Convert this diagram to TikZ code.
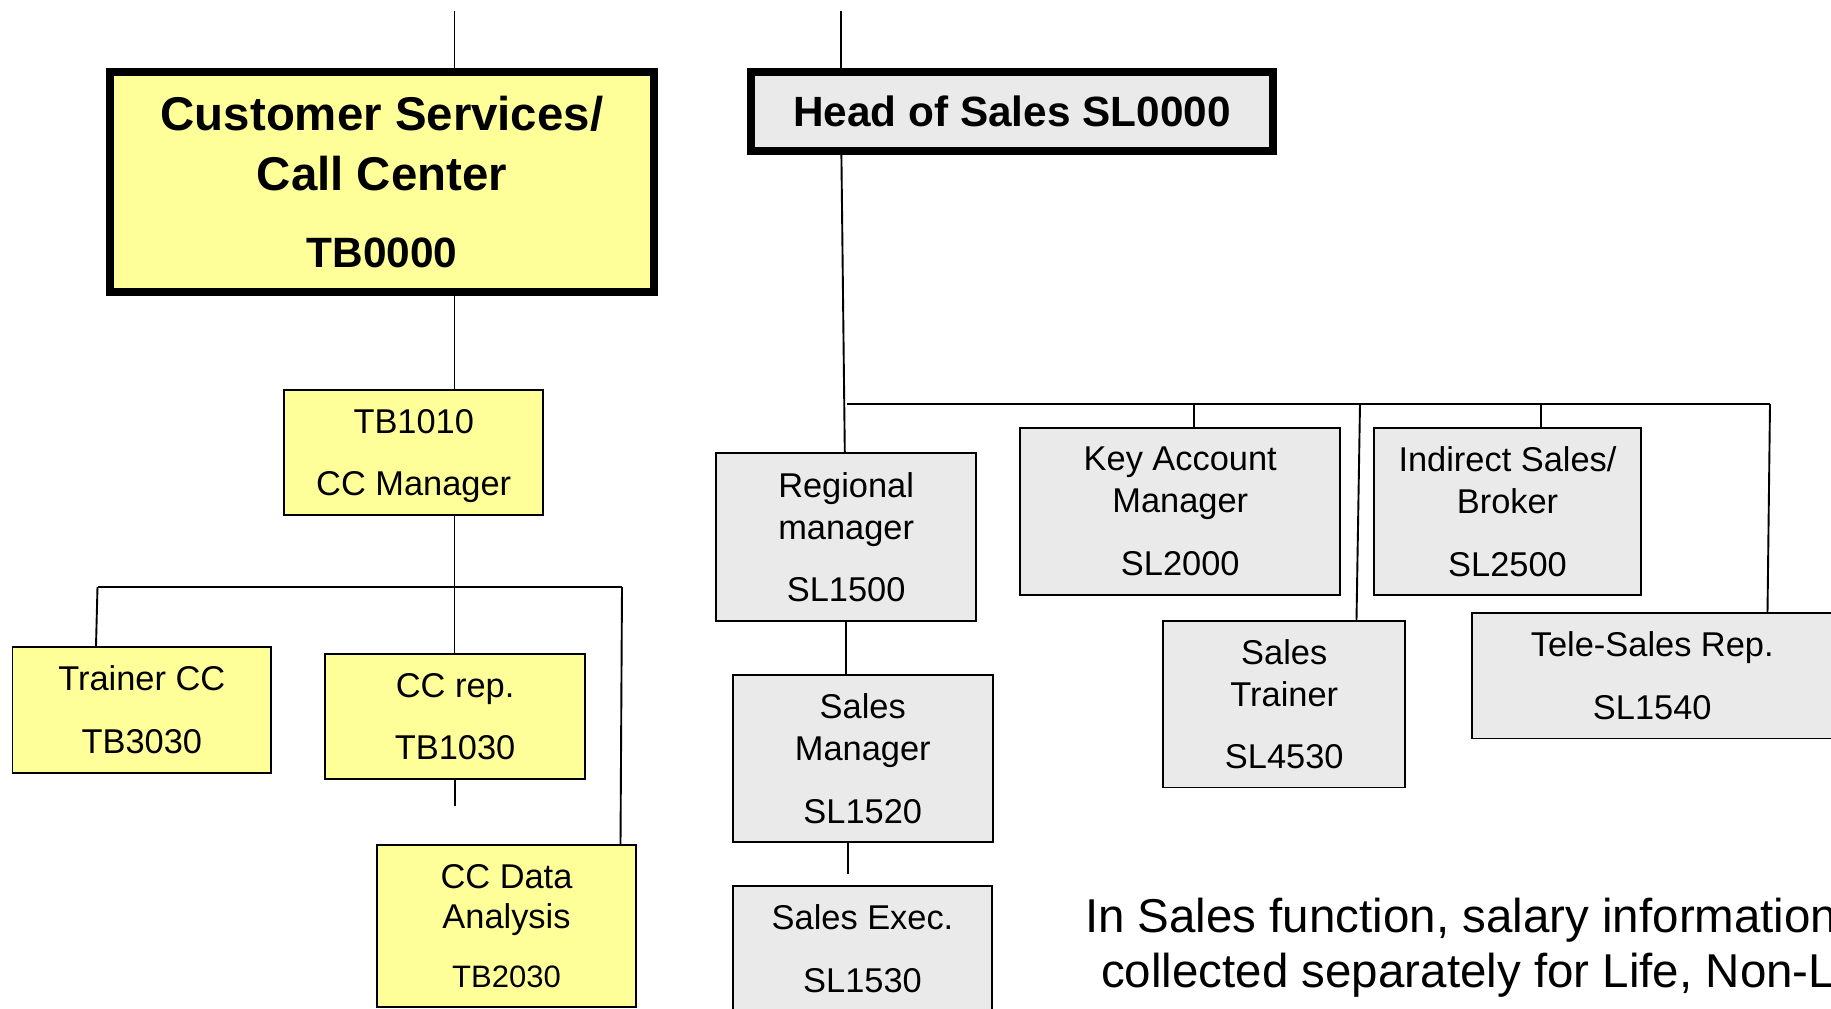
\documentclass[tikz,border=0pt]{standalone}
\usepackage{fontspec}
\setmainfont{Liberation Sans}
\definecolor{boxyellow}{HTML}{FFFF99}
\definecolor{boxgray}{HTML}{EAEAEA}
\tikzset{
  conn/.style={line width=1.9pt, draw=black},
  ybox/.style={draw=black, line width=1.9pt, fill=boxyellow, inner sep=0pt, align=center,
    font=\fontsize{34.4}{42}\selectfont},
  gbox/.style={draw=black, line width=1.9pt, fill=boxgray, inner sep=0pt, align=center,
    font=\fontsize{34.4}{42}\selectfont},
  topbox/.style={draw=black, line width=7.8pt, inner sep=0pt, align=center},
  note/.style={anchor=base west, inner sep=0pt, font=\fontsize{47.5}{57}\selectfont}
}
\begin{document}
\begin{tikzpicture}[x=1pt,y=-1pt]
\useasboundingbox (0,0) rectangle (1831,1009);

% ---------- Customer services branch ----------
\node[topbox, fill=boxyellow, minimum width=544.5pt, minimum height=220.5pt,
      font=\bfseries\fontsize{47.4}{60.7}\selectfont] (cs) at (382,182)
      {Customer Services/\\Call Center\\[16pt]{\fontsize{42.4}{60.7}\selectfont TB0000}};
\node[ybox, minimum width=258.7pt, minimum height=125pt, text depth=0pt] (tb1010) at (413.75,452.25)
      {TB1010\\[20.5pt]CC Manager};
\node[ybox, minimum width=258.6pt, minimum height=125.8pt] (trainer) at (141.8,709.8)
      {Trainer CC\\[20.5pt]TB3030};
\node[ybox, minimum width=259.4pt, minimum height=125.2pt] (ccrep) at (455.1,716.5)
      {CC rep.\\[20.5pt]TB1030};
\node[ybox, minimum width=259.2pt, minimum height=161.7pt, font=\fontsize{34.4}{40}\selectfont] (ccdata) at (506.5,926)
      {CC Data\\Analysis\\[18.5pt]{\fontsize{31}{40}\selectfont TB2030}};

% ---------- Sales branch ----------
\node[topbox, fill=boxgray, minimum width=522pt, minimum height=79.3pt,
      font=\bfseries\fontsize{42.3}{50}\selectfont] (head) at (1012,111.4)
      {Head of Sales SL0000};
\node[gbox, minimum width=259.9pt, minimum height=167.7pt] (regional) at (846.15,537.05)
      {Regional\\manager\\[20.5pt]SL1500};
\node[gbox, minimum width=259.7pt, minimum height=166.8pt] (smgr) at (862.75,758.7)
      {Sales\\Manager\\[20.5pt]SL1520};
\node[gbox, minimum width=259.2pt, minimum height=125.2pt] (sexec) at (862.5,948.5)
      {Sales Exec.\\[21pt]SL1530};
\node[gbox, minimum width=319.7pt, minimum height=167.2pt] (kam) at (1180.25,511.5)
      {Key Account\\Manager\\[21pt]SL2000};
\node[gbox, minimum width=266.2pt, minimum height=166.8pt] (indirect) at (1507.5,511.7)
      {Indirect Sales/\\Broker\\[21pt]SL2500};
\node[gbox, minimum width=241.7pt, minimum height=166.8pt] (strainer) at (1284.25,704.1)
      {Sales\\Trainer\\[20.8pt]SL4530};
\node[gbox, minimum width=359.7pt, minimum height=125.6pt] (tele) at (1652.25,675.7)
      {Tele-Sales Rep.\\[20.4pt]SL1540};

% ---------- connectors: customer services ----------
\coordinate (csin) at (454.5,11);
\draw[conn] (csin) -- (csin |- cs.north);
\draw[conn] (csin |- cs.south) -- (csin |- tb1010.north);
\draw[conn] (csin |- tb1010.south) -- (csin |- ccrep.north);
\coordinate (ccL) at (97.5,587);
\coordinate (ccR) at (622,587);
\draw[conn] (ccL) -- (ccR);
\draw[conn] (ccL) -- ([xshift=-1.5pt]ccL |- trainer.north);
\draw[conn] (ccR) -- ([xshift=-1.5pt]ccR |- ccdata.north);
\coordinate (ccstub) at (455.1,806);
\draw[conn] (ccstub |- ccrep.south) -- (ccstub);

% ---------- connectors: sales ----------
\coordinate (hsin) at (841.4,11);
\draw[conn] (hsin) -- (hsin |- head.north);
\draw[conn] (hsin |- head.south) -- ([xshift=3.4pt]hsin |- regional.north);
\coordinate (bl) at (846.7,404);
\coordinate (br) at (1770,404);
\draw[conn] (bl) -- (br);
\coordinate (kamj) at (1194,404);
\draw[conn] (kamj) -- (kamj |- kam.north);
\coordinate (stj) at (1360,404);
\draw[conn] (stj) -- ([xshift=-3.5pt]stj |- strainer.north);
\coordinate (indj) at (1541,404);
\draw[conn] (indj) -- (indj |- indirect.north);
\coordinate (telj) at (1770,404);
\draw[conn] (telj) -- ([xshift=-2.5pt]telj |- tele.north);
\draw[conn] (regional.south) -- (regional.south |- smgr.north);
\coordinate (smstub) at (848,874);
\draw[conn] (smstub |- smgr.south) -- (smstub);

% ---------- note ----------
\node[note] (note1) at (1084.8,932) {In Sales function, salary information};
\node[note] (note2) at (1101,987) {collected separately for Life, Non-Life};
\end{tikzpicture}
\end{document}
